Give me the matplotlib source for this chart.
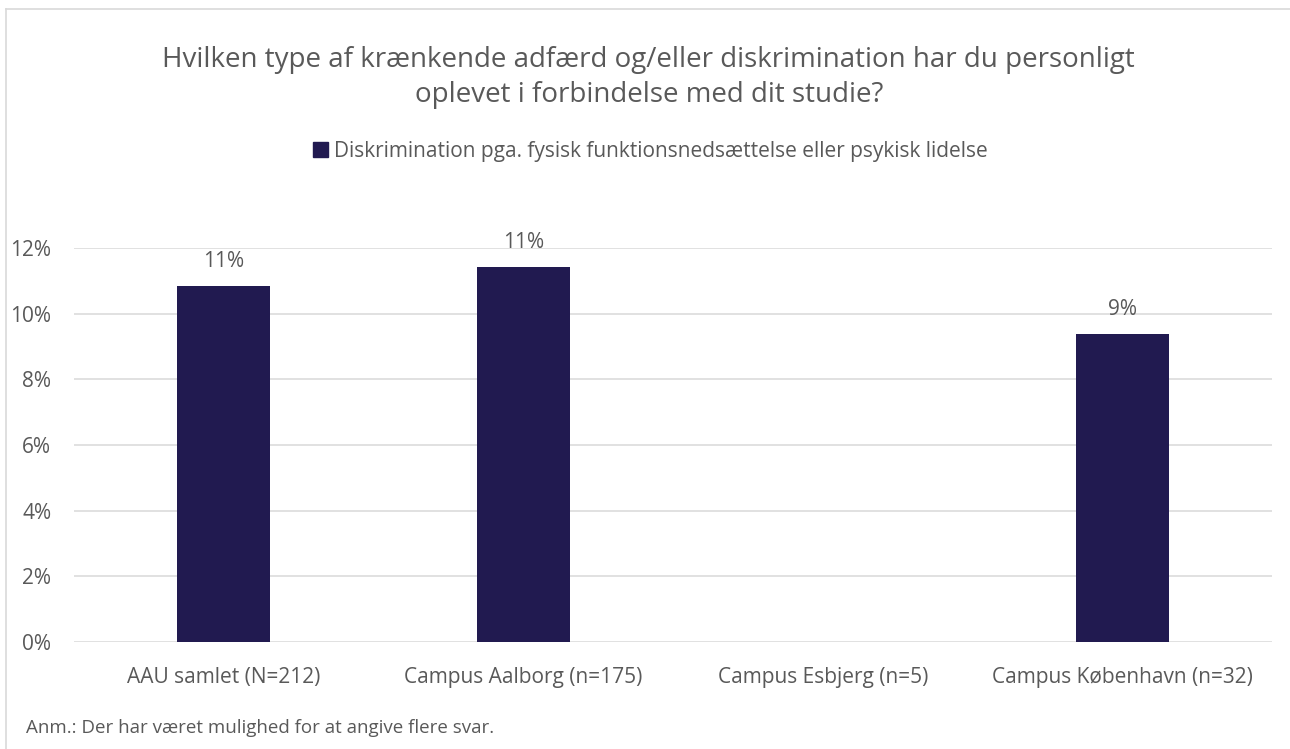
import matplotlib
matplotlib.use("Agg")
from matplotlib import pyplot as plt
from matplotlib.lines import Line2D
from matplotlib.patches import Patch

plt.rcParams['font.family'] = ['Open Sans', 'DejaVu Sans']

categories = ["AAU samlet (N=212)", "Campus Aalborg (n=175)", "Campus Esbjerg (n=5)", "Campus København (n=32)"]
values = [0.1085, 0.1143, 0.0, 0.09375]
labels = ["11%", "11%", "", "9%"]
yticks = [0, 0.02, 0.04, 0.06, 0.08, 0.10, 0.12]
series_name = "Diskrimination pga. fysisk funktionsnedsættelse eller psykisk lidelse"
title = "Hvilken type af krænkende adfærd og/eller diskrimination har du personligt\noplevet i forbindelse med dit studie?"
note = "Anm.: Der har været mulighed for at angive flere svar."

bar_color = "#211A50"
text_color = "#595959"
grid_color = "#D9D9D9"

fig = plt.figure(figsize=(12.9, 7.49), dpi=100)
ax = fig.add_axes([0.0574, 0.1429, 0.9286, 0.526])

x = range(len(categories))
ax.bar(x, values, width=0.31, color=bar_color, zorder=3)
for xi, v, lab in zip(x, values, labels):
    if lab:
        ax.annotate(lab, (xi, v), xytext=(0, 13.5), textcoords="offset points",
                    ha="center", va="baseline", fontsize=15, color=text_color)

ax.set_xlim(-0.5, len(categories) - 0.5)
ax.set_ylim(0, 0.12)
ax.set_yticks(yticks)
ax.set_yticklabels([f"{int(round(t * 100))}%" for t in yticks])
ax.set_xticks(list(x))
ax.set_xticklabels(categories)
ax.tick_params(axis="both", length=0, labelsize=15, colors=text_color)
ax.tick_params(axis="y", pad=16.5)
ax.tick_params(axis="x", pad=18)
ax.grid(axis="y", color=grid_color, linewidth=1.1, zorder=0)
for s in ax.spines.values():
    s.set_visible(False)

fig.text(0.503, 0.896, title, ha="center", va="center", fontsize=20,
         color=text_color, linespacing=1.33)

handle = Patch(facecolor=bar_color, edgecolor=bar_color)
fig.legend([handle], [series_name], loc="center", bbox_to_anchor=(0.504, 0.798),
           frameon=False, fontsize=15, labelcolor=text_color,
           handlelength=0.75, handleheight=0.75, handletextpad=0.25)

fig.text(0.02, 0.0214, note, ha="left", va="baseline", fontsize=13.5, color=text_color)

# light frame like the source image
fig.add_artist(Line2D([0.005, 1.0], [0.988, 0.988], color="#D9D9D9", linewidth=1.2))
fig.add_artist(Line2D([0.005, 0.005], [0.0, 0.988], color="#D9D9D9", linewidth=1.2))

fig.savefig("out.png", dpi=100)
